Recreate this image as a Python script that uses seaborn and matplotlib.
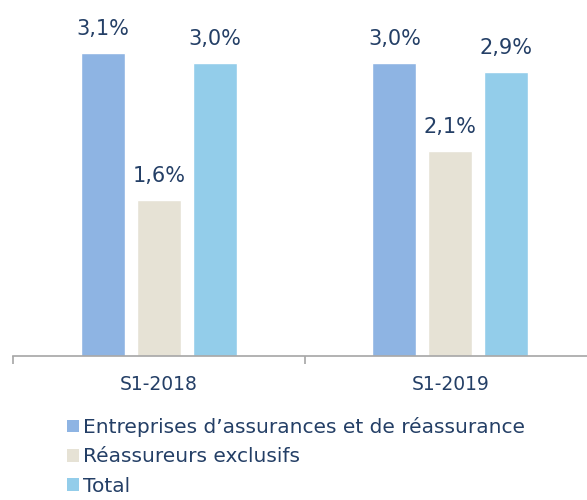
import pandas as pd
import seaborn as sns
import matplotlib.pyplot as plt
from matplotlib.patches import Patch

# Données
periodes = ["S1-2018", "S1-2019"]
series = ["Entreprises d\u2019assurances et de réassurance", "Réassureurs exclusifs", "Total"]
val_entreprises = [3.1, 3.0]
val_reassureurs = [1.6, 2.1]
val_total = [3.0, 2.9]
couleurs = ["#8EB4E3", "#E6E2D5", "#93CDEA"]
couleur_texte = "#243F66"

df = pd.DataFrame({
    "periode": periodes * 3,
    "serie": [series[0]] * 2 + [series[1]] * 2 + [series[2]] * 2,
    "valeur": val_entreprises + val_reassureurs + val_total,
})

sns.set_theme(style="white")
plt.rcParams["font.family"] = ["DejaVu Sans"]

fig = plt.figure(figsize=(5.87, 5.0), dpi=100)
ax = fig.add_axes([13 / 587, 144 / 500, 574 / 587, 356 / 500])

sns.barplot(data=df, x="periode", y="valeur", hue="serie", order=periodes,
            hue_order=series, palette=couleurs, width=0.575, gap=0.214,
            saturation=1, ax=ax, legend=False)

# Etiquettes des barres
for cont in ax.containers:
    labels = [f"{b.get_height():.1f}%".replace(".", ",") for b in cont]
    ax.bar_label(cont, labels=labels, padding=10, fontsize=15, color=couleur_texte)

ax.set_xlabel("")
ax.set_ylabel("")
ax.set_yticks([])
for s in ["top", "right", "left"]:
    ax.spines[s].set_visible(False)
ax.spines["bottom"].set_color("#A6A6A6")
ax.spines["bottom"].set_linewidth(1.2)

ax.set_xticks([-0.5, 0.5, 1.5], minor=True)
ax.tick_params(axis="x", which="minor", bottom=True, length=6, width=1.2,
               color="#A6A6A6", direction="out")
ax.tick_params(axis="x", which="major", bottom=False, labelsize=13.5,
               labelcolor=couleur_texte, pad=8)

# limites après les ticks (set_xticks élargit la vue)
ax.set_xlim(-0.5, 1.469)
ax.set_ylim(0, 3.64)

handles = [Patch(facecolor=c, edgecolor="none") for c in couleurs]
fig.legend(handles, series, loc="upper left", bbox_to_anchor=(67 / 587, 0.166),
           frameon=False, fontsize=14.5, labelcolor=couleur_texte,
           handlelength=0.6, handleheight=0.6, handletextpad=0.2,
           labelspacing=0.52, borderpad=0, borderaxespad=0)

plt.savefig("out.png", dpi=100)
